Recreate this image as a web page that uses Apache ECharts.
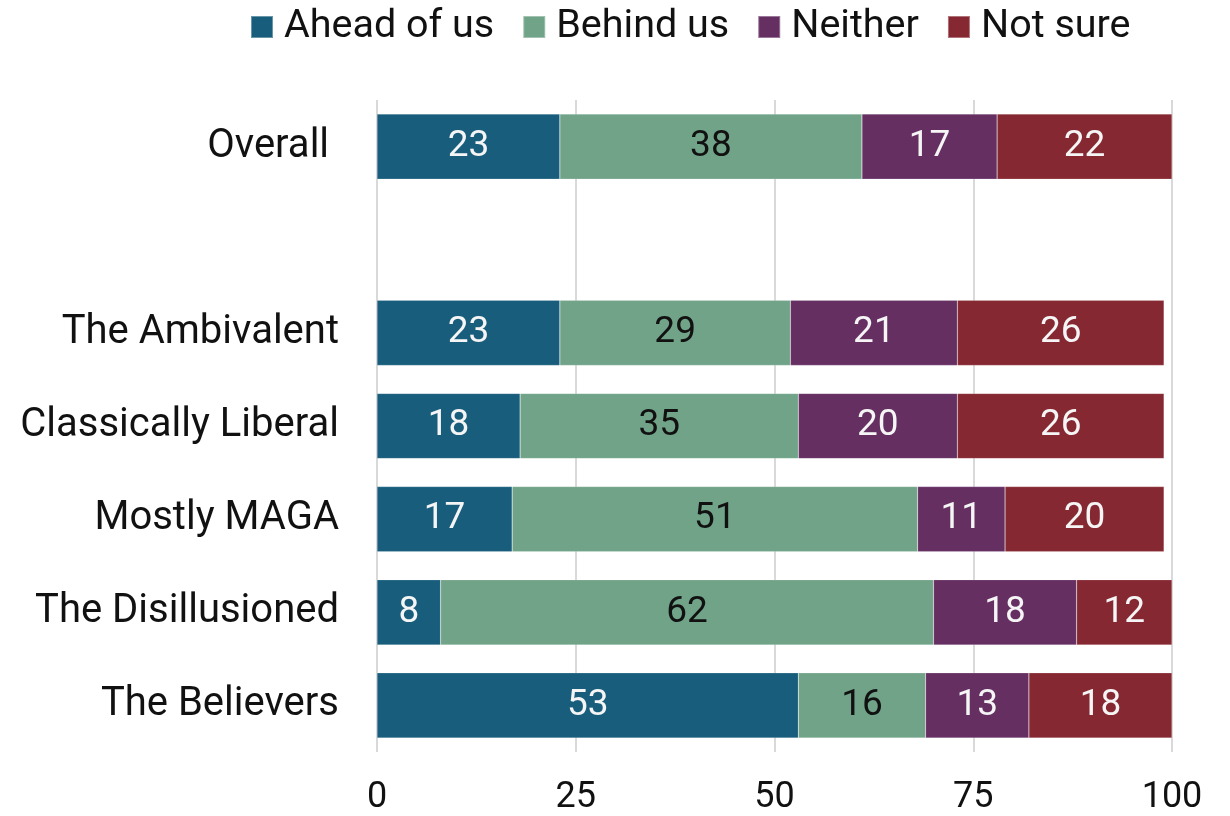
<!DOCTYPE html>
<html><head><meta charset="utf-8">
<script src="https://cdn.jsdelivr.net/npm/echarts@6/dist/echarts.min.js"></script>
<style>html,body{margin:0;padding:0;background:#fff}#c{width:1230px;height:816px}</style>
</head><body><div id="c"></div>
<script>
const categories = ['Overall ', '', 'The Ambivalent', 'Classically Liberal', 'Mostly MAGA', 'The Disillusioned', 'The Believers'];
const seriesNames = ['Ahead of us', 'Behind us', 'Neither', 'Not sure'];
const aheadOfUs = [23, null, 23, 18, 17, 8, 53];
const behindUs = [38, null, 29, 35, 51, 62, 16];
const neither = [17, null, 21, 20, 11, 18, 13];
const notSure = [22, null, 26, 26, 20, 12, 18];
const xTicks = [0, 25, 50, 75, 100];
const colors = ['#185e7c', '#70a388', '#652f62', '#862832'];
const labelColors = ['#f5f5f5', '#111111', '#f5f5f5', '#f5f5f5'];
const values = [aheadOfUs, behindUs, neither, notSure];
const FONT = 'Roboto';
const chart = echarts.init(document.getElementById('c'), null, {renderer: 'canvas'});
chart.setOption({
  animation: false,
  textStyle: {fontFamily: FONT},
  legend: {
    top: 2, left: 245, itemWidth: 22, itemHeight: 22, itemGap: 28,
    icon: 'rect',
    textStyle: {fontSize: 39.5, color: '#111', fontFamily: FONT, padding: [0, 0, 0, 6]},
    data: seriesNames
  },
  grid: {left: 377, right: 58, top: 100, bottom: 63, containLabel: false},
  xAxis: {
    type: 'value', min: 0, max: 100, interval: 25,
    axisLine: {show: false}, axisTick: {show: false},
    splitLine: {lineStyle: {color: '#d9d9d9', width: 2}},
    axisLabel: {fontSize: 36, color: '#111', margin: 28, fontFamily: FONT,
      formatter: v => xTicks.includes(v) ? String(v) : ''}
  },
  yAxis: {
    type: 'category', inverse: true, data: categories,
    axisLine: {show: false}, axisTick: {show: false},
    axisLabel: {fontSize: 40, color: '#111', margin: 38, fontFamily: FONT}
  },
  series: values.map((arr, i) => ({
    name: seriesNames[i], type: 'bar', stack: 'total', barWidth: '70%',
    data: arr,
    itemStyle: {color: colors[i], borderColor: 'rgba(255,255,255,0.35)', borderWidth: 0.5},
    label: {show: true, position: 'inside', fontSize: 37, color: labelColors[i], fontFamily: FONT,
      formatter: p => p.value == null ? '' : String(p.value)}
  }))
});
</script></body></html>
